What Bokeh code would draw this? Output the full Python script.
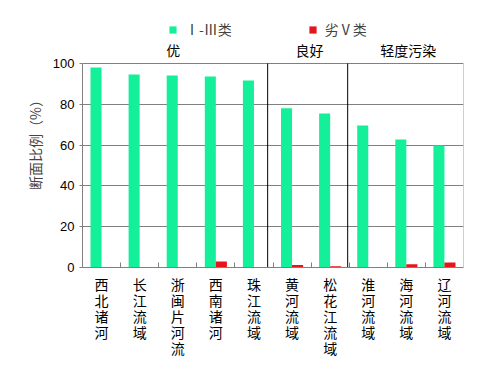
from bokeh.plotting import figure
from bokeh.models import (FixedTicker, Legend, LegendItem, ColumnDataSource, Range1d)
from bokeh.core.properties import value
from bokeh.embed import file_html
from bokeh.resources import INLINE

categories = ["西北诸河", "长江流域", "浙闽片河流", "西南诸河", "珠江流域",
              "黄河流域", "松花江流域", "淮河流域", "海河流域", "辽河流域"]
class_1_3 = [98.0, 94.6, 94.1, 93.6, 91.7, 78.0, 75.5, 69.6, 62.7, 59.8]
class_worse_v = [0.0, 0.0, 0.0, 2.9, 0.0, 1.2, 0.6, 0.0, 1.6, 2.5]
series_names = ["Ⅰ-Ⅲ类", "劣Ⅴ类"]
group_names = ["优", "良好", "轻度污染"]
group_label_x = [2.38, 5.96, 8.55]
separators = [4.86, 6.96]
y_ticks = [0, 20, 40, 60, 80, 100]

GREEN = "#14f09a"
RED = "#e8141c"
CJK = "Noto Sans CJK SC"
GRID = "#808080"

n = len(categories)
ymax = 100
centers = [i + 0.5 for i in range(n)]
src = ColumnDataSource(dict(
    xg=[c - 0.145 for c in centers],
    xr=[c + 0.145 for c in centers],
    g=class_1_3, r=class_worse_v))

p = figure(width=488, height=378, output_backend="svg", toolbar_location=None,
           x_range=Range1d(0, n), y_range=Range1d(0, 123.5),
           min_border_left=82, min_border_right=25, min_border_top=15, min_border_bottom=111)
p.outline_line_color = None
p.background_fill_color = "white"
p.border_fill_color = "white"

rg = p.vbar(x="xg", top="g", width=0.29, source=src, fill_color=GREEN, line_color=None)
rr = p.vbar(x="xr", top="r", width=0.29, source=src, fill_color=RED, line_color=None)

# right border of plot area
p.segment(x0=[n], y0=[0], x1=[n], y1=[ymax], line_color="#a0a0a0", line_width=1)
# group separators
p.segment(x0=separators, y0=[0] * len(separators), x1=separators, y1=[ymax] * len(separators),
          line_color="black", line_width=1)
# group labels
p.text(x=group_label_x, y=[106.4] * len(group_names), text=group_names,
       text_font=value(CJK), text_font_size="14px", text_align="center",
       text_baseline="middle", text_color="black")

# axes
p.xaxis.ticker = FixedTicker(ticks=centers, minor_ticks=list(range(1, n)))
p.xaxis.major_label_overrides = {c: "\n".join(list(name)) for c, name in zip(centers, categories)}
p.xaxis.major_tick_in = 0
p.xaxis.major_tick_out = 0
p.xaxis.minor_tick_in = 5
p.xaxis.minor_tick_out = 0
p.xaxis.minor_tick_line_color = GRID
p.xaxis.axis_line_color = GRID
p.xaxis.major_label_text_font = CJK
p.xaxis.major_label_text_font_size = "14px"
p.xaxis.major_label_text_color = "black"
p.xaxis.major_label_text_line_height = 0.8
p.xaxis.major_label_standoff = 6
p.xgrid.visible = False

p.yaxis.ticker = FixedTicker(ticks=y_ticks)
p.yaxis.bounds = (0, ymax)
p.yaxis.major_tick_in = 0
p.yaxis.major_tick_out = 3
p.yaxis.minor_tick_line_color = None
p.yaxis.axis_line_color = GRID
p.yaxis.major_tick_line_color = GRID
p.yaxis.major_label_text_font = "Liberation Sans"
p.yaxis.major_label_text_font_size = "13px"
p.yaxis.major_label_text_color = "black"
p.yaxis.axis_label = "断面比例（%）"
p.yaxis.axis_label_text_font = CJK
p.yaxis.axis_label_text_font_size = "14px"
p.yaxis.axis_label_text_font_style = "normal"
p.yaxis.axis_label_standoff = 5
p.ygrid.grid_line_color = GRID
p.ygrid.ticker = FixedTicker(ticks=y_ticks)

legend = Legend(items=[LegendItem(label=series_names[0], renderers=[rg]),
                       LegendItem(label=series_names[1], renderers=[rr])],
                orientation="horizontal", location=(86, 228),
                label_text_font=CJK, label_text_font_size="14px",
                glyph_width=9, glyph_height=9, spacing=76, padding=0, margin=0,
                border_line_color=None, background_fill_alpha=0, label_standoff=8)
p.add_layout(legend)

open("out.html", "w").write(file_html(p, INLINE))
